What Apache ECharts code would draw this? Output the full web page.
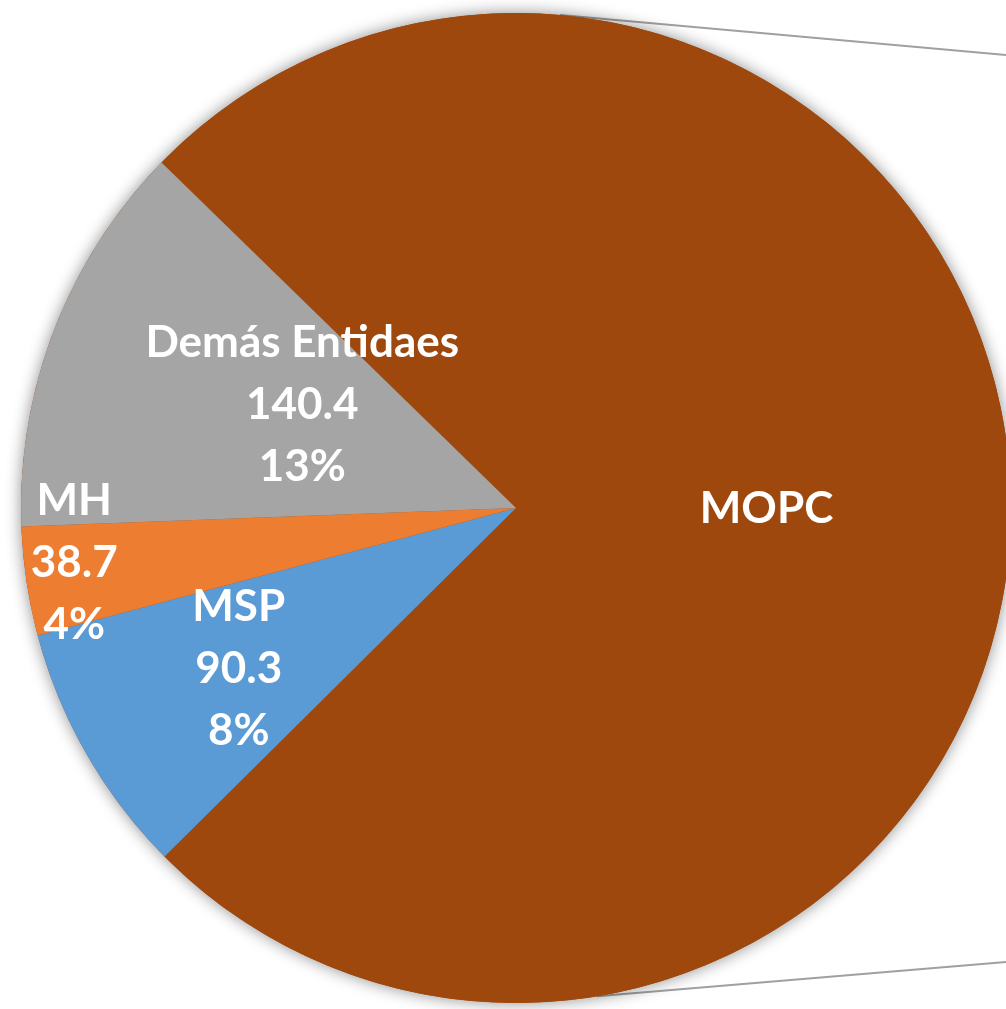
<!DOCTYPE html>
<html>
<head>
    <meta charset="utf-8" />
    <title></title>
    <script src="https://cdn.jsdelivr.net/npm/echarts@6/dist/echarts.min.js"></script>
    <style>
        html, body { margin: 0; padding: 0; background: #fff; }
    </style>
</head>
<body>
    <div id="main" style="width: 1006px; height: 1009px;"></div>
    <script type="text/javascript">
        // datos del grafico
        var names = ['MOPC', 'MSP', 'MH', 'Demás Entidaes'];
        var values = [820, 90.3, 38.7, 140.4];
        var colors = ['#9E480E', '#5B9BD5', '#ED7D31', '#A5A5A5'];
        // desplazamiento de etiquetas (como en el original)
        var labelShift = [[0, 2], [-60, 36], [-194, 18], [20, -13]];

        var cx = 516, cy = 508, r = 495;
        var total = values.reduce(function (a, b) { return a + b; }, 0);

        var pieData = [];
        for (var i = 0; i < names.length; i++) {
            var item = { name: names[i], value: values[i], itemStyle: { color: colors[i] } };
            if (i === 0) {
                item.label = { formatter: '{b}' };
            }
            pieData.push(item);
        }

        // lineas hacia el segundo grafico
        function edgePoint(deg) {
            var a = deg * Math.PI / 180;
            return [cx + r * Math.cos(a), cy - r * Math.sin(a)];
        }
        var pTop = edgePoint(84.9), pBot = edgePoint(-80.6);

        var myChart = echarts.init(document.getElementById('main'));
        var option = {
            backgroundColor: '#fff',
            animation: false,
            graphic: [
                { type: 'line', z: 0, shape: { x1: pTop[0], y1: pTop[1], x2: 1006, y2: 55 },
                  style: { stroke: '#A0A0A0', lineWidth: 2 } },
                { type: 'line', z: 0, shape: { x1: pBot[0], y1: pBot[1], x2: 1006, y2: 962 },
                  style: { stroke: '#A0A0A0', lineWidth: 2 } }
            ],
            series: [
                {
                    // sombra del circulo
                    type: 'pie',
                    silent: true,
                    center: [cx, cy],
                    radius: r,
                    label: { show: false },
                    labelLine: { show: false },
                    itemStyle: {
                        color: colors[0],
                        shadowBlur: 16,
                        shadowColor: 'rgba(0,0,0,0.45)'
                    },
                    data: [{ name: '', value: total }]
                },
                {
                    type: 'pie',
                    center: [cx, cy],
                    radius: r,
                    startAngle: 135.74,
                    clockwise: true,
                    percentPrecision: 0,
                    label: {
                        show: true,
                        position: 'inside',
                        formatter: '{b}\n{c}\n{d}%',
                        color: '#fff',
                        fontFamily: 'Lato',
                        fontWeight: 'bold',
                        fontSize: 44,
                        lineHeight: 62,
                        align: 'center'
                    },
                    labelLine: { show: false },
                    labelLayout: function (params) {
                        var s = labelShift[params.dataIndex];
                        return { dx: s[0], dy: s[1] };
                    },
                    emphasis: { disabled: true },
                    data: pieData
                }
            ]
        };
        myChart.setOption(option);
    </script>
</body>
</html>
